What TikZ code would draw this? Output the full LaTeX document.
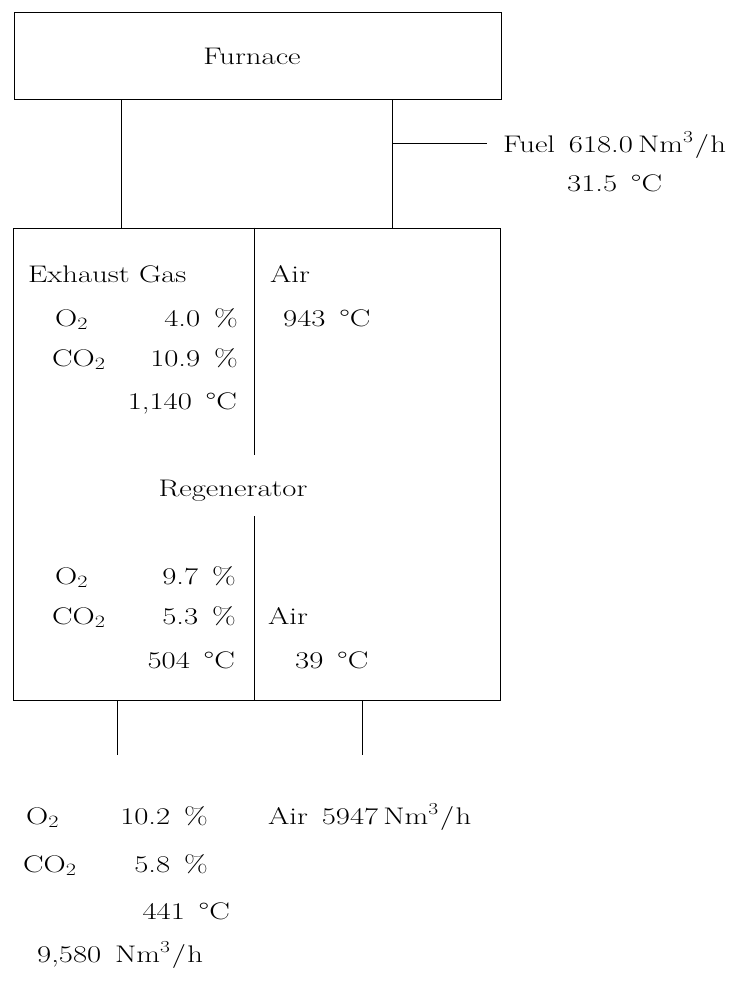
\documentclass[tikz,border=0pt]{standalone}
\usepackage{graphicx}
\newcommand{\wt}[1]{\scalebox{1.28}[1]{#1}}
\newcommand{\dgc}{\textdegree C}
\newcommand{\nmh}{Nm\textsuperscript{3}\kern1pt/\kern1pt h}
\newcommand{\gp}{\hspace{0.45em}}
\tikzset{
  box/.style={draw, line width=1pt, inner sep=0pt},
  pipe/.style={line width=1pt},
  lbl/.style={inner sep=0pt, font=\fontsize{24}{28}\selectfont},
  lw/.style={lbl, anchor=base west},
  le/.style={lbl, anchor=base east},
  lc/.style={lbl, anchor=base},
}
\begin{document}
\begin{tikzpicture}[x=1pt,y=-1pt]
\useasboundingbox (0,0) rectangle (755,982);
% boxes
\node[box, minimum width=487pt, minimum height=86pt] (fur) at (257.5,56) {};
\node[box, minimum width=487pt, minimum height=472pt] (reg) at (256.5,464) {};
% coordinates
\coordinate (lp) at (121,0);
\coordinate (rp) at (392,0);
\coordinate (fuelend) at (487,143);
\coordinate (d1) at (254,455);
\coordinate (d2) at (254,516);
\coordinate (lb) at (117,755);
\coordinate (rb) at (362,755);
% pipes
\draw[pipe] (lp |- fur.south) -- (lp |- reg.north);
\draw[pipe] (rp |- fur.south) -- (rp |- reg.north);
\draw[pipe] (rp |- fuelend) -- (fuelend);
\draw[pipe] (d1 |- reg.north) -- (d1);
\draw[pipe] (d2) -- (d2 |- reg.south);
\draw[pipe] (lb |- reg.south) -- (lb);
\draw[pipe] (rb |- reg.south) -- (rb);
% texts
\node[lc] (tfur) at (252,64) {\wt{Furnace}};
\node[lw] (tfuel) at (503,152) {\wt{Fuel\gp 618.0\,\nmh}};
\node[lw] (tfuelt) at (567,191) {\wt{31.5\gp\dgc}};
\node[lw] (teg) at (28,282) {\wt{Exhaust Gas}};
\node[lw] (tair1) at (270,282) {\wt{Air}};
\node[lw] (to1) at (55,326) {\wt{O$_{2}$}};
\node[le] (to1v) at (238,326) {\wt{4.0\gp\%}};
\node[lw] (tair1t) at (283,326) {\wt{943\gp\dgc}};
\node[lw] (tc1) at (52,366) {\wt{CO$_{2}$}};
\node[le] (tc1v) at (238,366) {\wt{10.9\gp\%}};
\node[le] (tt1) at (237,409) {\wt{1,140\gp\dgc}};
\node[lc] (treg) at (233,496) {\wt{Regenerator}};
\node[lw] (to2) at (55,584) {\wt{O$_{2}$}};
\node[le] (to2v) at (236,584) {\wt{9.7\gp\%}};
\node[lw] (tc2) at (52,624) {\wt{CO$_{2}$}};
\node[le] (tc2v) at (236,624) {\wt{5.3\gp\%}};
\node[lw] (tair2) at (268,624) {\wt{Air}};
\node[le] (tt2) at (235,668) {\wt{504\gp\dgc}};
\node[lw] (tair2t) at (295,668) {\wt{39\gp\dgc}};
\node[lw] (to3) at (26,824) {\wt{O$_{2}$}};
\node[le] (to3v) at (208,824) {\wt{10.2\gp\%}};
\node[lw] (tair3) at (268,824) {\wt{Air\gp 5947\,\nmh}};
\node[lw] (tc3) at (23,872) {\wt{CO$_{2}$}};
\node[le] (tc3v) at (208,872) {\wt{5.8\gp\%}};
\node[le] (tt3) at (230,919) {\wt{441\gp\dgc}};
\node[lw] (tflow) at (37,962) {\wt{9,580\gp\nmh}};
\end{tikzpicture}
\end{document}
